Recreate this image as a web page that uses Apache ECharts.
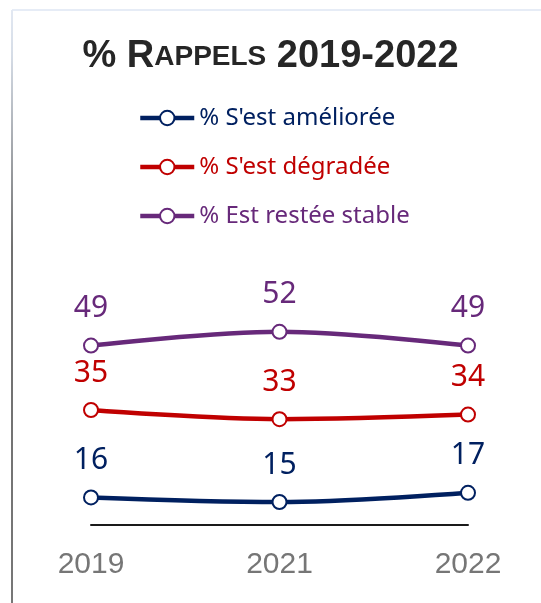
<!DOCTYPE html>
<html>
<head>
<meta charset="utf-8">
<script src="https://cdn.jsdelivr.net/npm/echarts@6/dist/echarts.min.js"></script>
<style>
html,body{margin:0;padding:0;background:#fff;}
#chart{width:541px;height:603px;}
</style>
</head>
<body>
<div id="chart"></div>
<script>
const categories = ['2019', '2021', '2022'];
const seriesNames = ["% S'est améliorée", "% S'est dégradée", "% Est restée stable"];
const ameliore = [16, 15, 17];
const degrade = [35, 33, 34];
const stable = [49, 52, 49];
const colors = ['#002060', '#C00000', '#67297A'];

const chart = echarts.init(document.getElementById('chart'));

function mkSeries(name, data, color) {
  return {
    name: name,
    type: 'line',
    data: data,
    smooth: 0.35,
    symbol: 'circle',
    symbolSize: 14,
    showAllSymbol: true,
    lineStyle: { color: color, width: 4.5 },
    itemStyle: { color: '#ffffff', borderColor: color, borderWidth: 2 },
    label: {
      show: true,
      position: 'top',
      distance: 14,
      color: color,
      fontFamily: 'Noto Sans',
      fontSize: 30
    },
    emphasis: { disabled: true },
    animation: false
  };
}

chart.setOption({
  animation: false,
  title: {
    text: '{a|% R}{b|APPELS}{a| 2019-2022}',
    left: 'center',
    top: 33,
    textStyle: {
      rich: {
        a: { fontFamily: 'Liberation Sans', fontWeight: 'bold', fontSize: 38, color: '#262626' },
        b: { fontFamily: 'Liberation Sans', fontWeight: 'bold', fontSize: 28, color: '#262626' }
      }
    }
  },
  legend: {
    orient: 'vertical',
    left: 133,
    top: 101,
    itemWidth: 54,
    itemHeight: 18,
    itemGap: 25,
    selectedMode: false,
    lineStyle: { width: 4.5 },
    itemStyle: { borderWidth: 2 },
    textStyle: { fontFamily: 'Noto Sans', fontSize: 24 },
    data: seriesNames.map((n, i) => ({ name: n, textStyle: { color: colors[i] } }))
  },
  graphic: [
    { type: 'line', shape: { x1: 12, y1: 10, x2: 541, y2: 10 }, style: { stroke: '#e6ecf6', lineWidth: 2 } },
    { type: 'line', shape: { x1: 12, y1: 10, x2: 12, y2: 603 },
      style: { lineWidth: 2, stroke: new echarts.graphic.LinearGradient(0, 0, 0, 1, [
        { offset: 0, color: '#e3e9f3' },
        { offset: 0.08, color: '#d5dce6' },
        { offset: 0.4, color: '#707070' },
        { offset: 1, color: '#777777' }
      ]) } }
  ],
  grid: { left: 91, right: 73, top: 295, bottom: 78 },
  xAxis: {
    type: 'category',
    data: categories,
    boundaryGap: false,
    axisLine: { show: true, lineStyle: { color: '#1a1a1a', width: 2 } },
    axisTick: { show: false },
    axisLabel: {
      color: '#767676',
      fontFamily: 'Liberation Sans Narrow, Liberation Sans',
      fontSize: 30,
      margin: 25
    },
    splitLine: { show: false }
  },
  yAxis: {
    type: 'value',
    min: 10,
    max: 60,
    show: false,
    splitLine: { show: false }
  },
  series: [
    mkSeries(seriesNames[0], ameliore, colors[0]),
    mkSeries(seriesNames[1], degrade, colors[1]),
    mkSeries(seriesNames[2], stable, colors[2])
  ]
});
</script>
</body>
</html>
